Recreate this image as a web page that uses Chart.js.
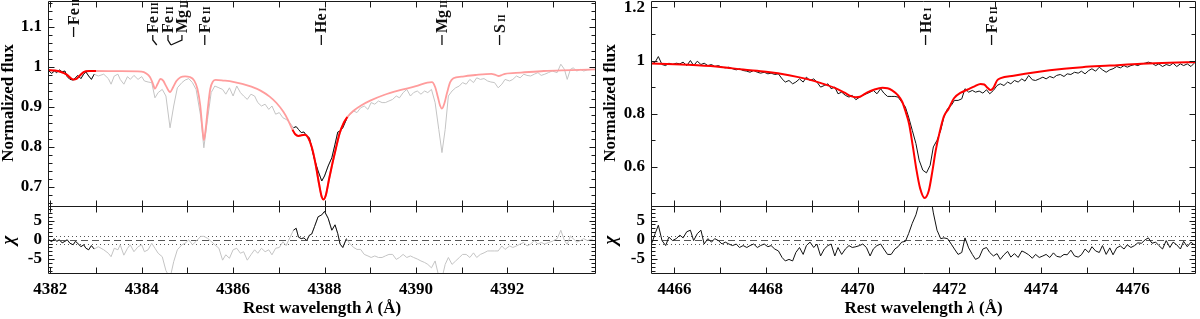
<!DOCTYPE html>
<html>
<head>
<meta charset="utf-8">
<script src="https://cdn.jsdelivr.net/npm/chart.js@4.4.1/dist/chart.umd.min.js"></script>
<style>
html, body { margin: 0; padding: 0; background: #fff; }
#wrap { position: relative; width: 1200px; height: 319px; overflow: hidden; }
canvas { position: absolute; }
</style>
</head>
<body>
<div id="wrap">
  <canvas id="mainL" width="600" height="208" style="left:0px;top:0px"></canvas>
  <canvas id="chiL" width="600" height="119" style="left:0px;top:200px"></canvas>
  <canvas id="mainR" width="600" height="208" style="left:600px;top:0px"></canvas>
  <canvas id="chiR" width="600" height="119" style="left:600px;top:200px"></canvas>
</div>
<script>
// ---- left panel: He I 4388 ----
const lamL = [
  4381.97, 4382.03, 4382.09, 4382.14, 4382.20, 4382.26, 4382.32, 4382.37, 4382.43, 4382.50,
  4382.55, 4382.60, 4382.67, 4382.73, 4382.78, 4382.84, 4382.90, 4382.96, 4383.05, 4383.17,
  4383.27, 4383.33, 4383.40, 4383.48, 4383.53, 4383.61, 4383.69, 4383.75, 4383.83, 4383.92,
  4384.00, 4384.06, 4384.14, 4384.22, 4384.29, 4384.36, 4384.45, 4384.53, 4384.62, 4384.70,
  4384.78, 4384.88, 4384.95, 4385.03, 4385.11, 4385.19, 4385.29, 4385.36, 4385.44, 4385.52,
  4385.60, 4385.69, 4385.77, 4385.84, 4385.92, 4386.00, 4386.08, 4386.16, 4386.23, 4386.31,
  4386.39, 4386.47, 4386.54, 4386.62, 4386.70, 4386.78, 4386.85, 4386.93, 4387.01, 4387.09,
  4387.16, 4387.24, 4387.32, 4387.38, 4387.43, 4387.49, 4387.55, 4387.61, 4387.67, 4387.72,
  4387.78, 4387.86, 4387.94, 4388.00, 4388.08, 4388.16, 4388.23, 4388.29, 4388.34, 4388.40,
  4388.48, 4388.56, 4388.64, 4388.71, 4388.79, 4388.87, 4388.95, 4389.02, 4389.10, 4389.18,
  4389.26, 4389.33, 4389.41, 4389.49, 4389.57, 4389.64, 4389.72, 4389.80, 4389.88, 4389.95,
  4390.03, 4390.11, 4390.19, 4390.26, 4390.34, 4390.42, 4390.50, 4390.57, 4390.64, 4390.71,
  4390.79, 4390.87, 4390.95, 4391.02, 4391.10, 4391.18, 4391.26, 4391.33, 4391.41, 4391.49,
  4391.57, 4391.64, 4391.72, 4391.80, 4391.88, 4391.95, 4392.05, 4392.12, 4392.20, 4392.28,
  4392.36, 4392.43, 4392.51, 4392.59, 4392.67, 4392.74, 4392.82, 4392.90, 4392.98, 4393.09,
  4393.17, 4393.25, 4393.31, 4393.38, 4393.44, 4393.52, 4393.60, 4393.67, 4393.75, 4393.87
];
const fluxL = [
  0.990, 0.984, 0.990, 0.986, 0.9925, 0.988, 0.990, 0.976, 0.969, 0.9675,
  0.973, 0.979, 0.971, 0.982, 0.9875, 0.9775, 0.969, 0.982, 0.9775, 0.982,
  0.971, 0.957, 0.9775, 0.982, 0.969, 0.957, 0.976, 0.969, 0.979, 0.969,
  0.976, 0.965, 0.9625, 0.961, 0.923, 0.936, 0.944, 0.9275, 0.848, 0.9025,
  0.948, 0.961, 0.9675, 0.971, 0.961, 0.944, 0.8775, 0.798, 0.869, 0.936,
  0.9525, 0.948, 0.944, 0.932, 0.948, 0.9275, 0.9525, 0.936, 0.9275, 0.919,
  0.932, 0.9275, 0.911, 0.9025, 0.907, 0.894, 0.9025, 0.882, 0.886, 0.873,
  0.869, 0.861, 0.848, 0.851, 0.844, 0.836, 0.8375, 0.8275, 0.823, 0.798,
  0.769, 0.740, 0.715, 0.7275, 0.7525, 0.773, 0.807, 0.8375, 0.840, 0.848,
  0.869, 0.882, 0.890, 0.886, 0.898, 0.9025, 0.894, 0.911, 0.907, 0.915,
  0.911, 0.911, 0.915, 0.919, 0.9275, 0.923, 0.936, 0.944, 0.9275, 0.936,
  0.940, 0.932, 0.940, 0.936, 0.944, 0.911, 0.844, 0.786, 0.844, 0.9275,
  0.940, 0.948, 0.9525, 0.961, 0.957, 0.969, 0.961, 0.973, 0.969, 0.971,
  0.965, 0.9625, 0.961, 0.948, 0.957, 0.969, 0.965, 0.969, 0.9775, 0.973,
  0.982, 0.979, 0.9775, 0.982, 0.986, 0.979, 0.982, 0.986, 0.990, 0.986,
  1.007, 0.994, 0.969, 0.994, 0.998, 0.990, 0.994, 0.990, 0.9925, 0.994
];
const chiL = [
  0.0, -0.5, 0.3, -0.4, 0.0, -0.8, -0.4, 0.0, -0.9, -1.3,
  -0.4, -0.9, -1.8, -1.3, -2.2, -2.6, -1.5, -2.4, -1.8, -2.6,
  -3.5, -4.4, -2.2, -2.6, -1.3, -4.0, -2.2, -1.3, -3.1, -1.8,
  -1.3, -3.1, -2.6, -0.9, -2.2, -3.5, -4.4, -8.0, -10, -5.7,
  -2.6, -1.3, -0.9, 0.0, -1.3, -0.4, 0.9, 0.9, 0.4, -0.4,
  -1.3, -2.2, -5.3, -3.9, -4.8, -2.6, -2.2, -3.5, -3.1, -5.3,
  -3.9, -2.6, -3.5, -2.2, -3.1, -2.6, -3.9, -2.2, -2.0, -0.5,
  -1.5, 0.5, 2.5, 3.0, 0.7, 0.3, 0.5, -0.2, 1.2, 1.5,
  3.4, 6.0, 6.5, 7.4, 5.6, 2.5, 3.9, 1.6, -1.1, -2.0,
  0.3, -1.1, -2.0, -2.5, -2.5, -3.8, -4.2, -4.6, -4.2, -4.6,
  -4.6, -4.2, -3.8, -3.8, -5.1, -4.6, -3.8, -4.6, -4.2, -4.6,
  -5.0, -5.5, -5.9, -6.4, -7.3, -5.5, -9.5, -10, -6.4, -4.6,
  -6.4, -5.5, -4.6, -3.8, -3.8, -4.6, -3.4, -4.6, -3.8, -3.4,
  -2.9, -2.9, -2.9, -2.9, -1.6, -2.5, -1.6, -2.0, -1.6, -1.1,
  -0.7, -1.6, -1.1, -0.2, -1.1, -0.7, -1.1, -0.7, -0.4, 0.3,
  2.5, -0.2, -1.2, 1.0, 0.3, -0.6, -0.2, 0.3, -0.2, 0.2
];
const modelLamL = [
  4381.95, 4382.10, 4382.22, 4382.36, 4382.45, 4382.51, 4382.58, 4382.66, 4382.74, 4382.85,
  4383.00, 4383.50, 4384.00, 4384.10, 4384.18, 4384.24, 4384.29, 4384.35, 4384.41, 4384.47,
  4384.54, 4384.62, 4384.69, 4384.76, 4384.85, 4384.95, 4385.05, 4385.15, 4385.22, 4385.28,
  4385.33, 4385.36, 4385.40, 4385.45, 4385.50, 4385.56, 4385.62, 4385.80, 4386.00, 4386.20,
  4386.40, 4386.60, 4386.80, 4386.95, 4387.10, 4387.20, 4387.30, 4387.36, 4387.43, 4387.50,
  4387.57, 4387.64, 4387.72, 4387.80, 4387.88, 4387.94, 4387.98, 4388.03, 4388.10, 4388.17,
  4388.25, 4388.33, 4388.42, 4388.50, 4388.65, 4388.80, 4389.00, 4389.30, 4389.65, 4390.00,
  4390.25, 4390.35, 4390.42, 4390.48, 4390.53, 4390.57, 4390.62, 4390.68, 4390.75, 4390.82,
  4391.00, 4391.30, 4391.65, 4391.75, 4391.81, 4391.88, 4391.95, 4392.30, 4392.80, 4393.40,
  4393.94
];
const modelL = [
  0.9925, 0.991, 0.988, 0.981, 0.972, 0.9685, 0.971, 0.980, 0.988, 0.990,
  0.990, 0.9895, 0.9885, 0.984, 0.975, 0.960, 0.946, 0.958, 0.970, 0.966,
  0.951, 0.9375, 0.950, 0.965, 0.9745, 0.9765, 0.975, 0.966, 0.945, 0.905,
  0.845, 0.8175, 0.845, 0.900, 0.945, 0.964, 0.968, 0.966, 0.963, 0.958,
  0.951, 0.941, 0.926, 0.910, 0.888, 0.868, 0.843, 0.832, 0.8275, 0.8295,
  0.8305, 0.824, 0.800, 0.760, 0.708, 0.675, 0.669, 0.680, 0.720, 0.7575,
  0.797, 0.834, 0.860, 0.875, 0.892, 0.904, 0.916, 0.930, 0.942, 0.952,
  0.961, 0.962, 0.950, 0.925, 0.903, 0.896, 0.908, 0.935, 0.962, 0.972,
  0.976, 0.980, 0.983, 0.980, 0.9775, 0.980, 0.983, 0.986, 0.990, 0.992,
  0.994
];
const fitWindowsL = [[4381.9, 4383.0], [4387.3, 4388.5]];
const linesL = [
  ['Fe', 'III', 4382.51], ['Fe', 'III', 4384.33], ['Fe', 'II', 4384.64], ['Mg', 'II', 4384.64],
  ['Fe', 'II', 4385.38], ['He', 'I', 4387.93], ['Mg', 'II', 4390.57], ['S', 'II', 4391.83]
];

// ---- right panel: He I 4471 ----
const lamR = [
  4465.50, 4465.58, 4465.65, 4465.73, 4465.81, 4465.88, 4465.96, 4466.04, 4466.12, 4466.19,
  4466.27, 4466.35, 4466.42, 4466.50, 4466.58, 4466.65, 4466.73, 4466.81, 4466.88, 4466.96,
  4467.04, 4467.11, 4467.19, 4467.27, 4467.35, 4467.42, 4467.50, 4467.58, 4467.65, 4467.73,
  4467.81, 4467.88, 4467.96, 4468.04, 4468.11, 4468.19, 4468.27, 4468.35, 4468.42, 4468.50,
  4468.58, 4468.65, 4468.73, 4468.81, 4468.88, 4468.96, 4469.04, 4469.11, 4469.19, 4469.27,
  4469.35, 4469.42, 4469.50, 4469.57, 4469.65, 4469.73, 4469.81, 4469.88, 4469.96, 4470.04,
  4470.11, 4470.19, 4470.27, 4470.34, 4470.42, 4470.50, 4470.57, 4470.65, 4470.73, 4470.81,
  4470.88, 4470.96, 4471.04, 4471.11, 4471.19, 4471.27, 4471.34, 4471.42, 4471.50, 4471.58,
  4471.65, 4471.73, 4471.81, 4471.88, 4471.96, 4472.04, 4472.11, 4472.19, 4472.27, 4472.34,
  4472.42, 4472.50, 4472.57, 4472.65, 4472.73, 4472.81, 4472.88, 4472.96, 4473.04, 4473.11,
  4473.19, 4473.27, 4473.34, 4473.42, 4473.50, 4473.58, 4473.65, 4473.73, 4473.81, 4473.88,
  4473.96, 4474.04, 4474.11, 4474.19, 4474.27, 4474.34, 4474.42, 4474.50, 4474.57, 4474.65,
  4474.73, 4474.81, 4474.88, 4474.96, 4475.04, 4475.11, 4475.19, 4475.27, 4475.34, 4475.42,
  4475.50, 4475.57, 4475.65, 4475.73, 4475.81, 4475.88, 4475.96, 4476.04, 4476.11, 4476.19,
  4476.27, 4476.34, 4476.42, 4476.50, 4476.57, 4476.65, 4476.73, 4476.81, 4476.88, 4476.96,
  4477.04, 4477.11, 4477.19, 4477.27, 4477.34
];
const fluxR = [
  0.9875, 0.994, 1.015, 0.985, 0.981, 0.990, 0.985, 0.990, 0.9875, 0.994,
  0.981, 1.000, 0.981, 0.9975, 0.985, 0.990, 0.981, 0.985, 0.9775, 0.981,
  0.975, 0.9725, 0.975, 0.969, 0.965, 0.969, 0.9625, 0.960, 0.956, 0.9625,
  0.956, 0.9525, 0.956, 0.950, 0.9525, 0.9475, 0.950, 0.931, 0.919, 0.925,
  0.9125, 0.919, 0.931, 0.919, 0.9375, 0.925, 0.931, 0.919, 0.900, 0.906,
  0.9125, 0.894, 0.900, 0.875, 0.881, 0.869, 0.8625, 0.869, 0.8525, 0.8625,
  0.869, 0.875, 0.881, 0.8875, 0.875, 0.894, 0.8775, 0.865, 0.865, 0.865,
  0.8625, 0.844, 0.825, 0.7875, 0.7375, 0.6875, 0.625, 0.5875, 0.5775, 0.606,
  0.675, 0.700, 0.7375, 0.7875, 0.819, 0.831, 0.850, 0.850, 0.856, 0.894,
  0.881, 0.8875, 0.881, 0.885, 0.8775, 0.890, 0.875, 0.8875, 0.906, 0.9125,
  0.906, 0.919, 0.9125, 0.925, 0.919, 0.931, 0.9225, 0.944, 0.9275, 0.925,
  0.931, 0.9375, 0.931, 0.940, 0.935, 0.944, 0.9475, 0.940, 0.950, 0.9475,
  0.956, 0.9525, 0.960, 0.950, 0.9625, 0.969, 0.960, 0.975, 0.965, 0.956,
  0.965, 0.969, 0.9775, 0.9725, 0.981, 0.975, 0.981, 0.985, 0.981, 0.9875,
  0.990, 0.994, 0.990, 0.981, 0.9875, 0.9775, 0.985, 0.981, 0.990, 0.9775,
  0.9875, 0.981, 0.9875, 0.9775, 0.990
];
const chiR = [
  -1.1, 1.6, 3.8, -0.2, -1.5, 0.7, -0.2, 0.3, 1.2, 0.5,
  2.1, 2.5, -0.2, 1.6, 2.5, -1.1, 0.3, -0.6, 0.3, -0.2,
  -1.1, -0.6, -1.1, -1.5, -1.1, -2.0, -1.5, -2.0, -1.5, -1.1,
  -2.0, -1.5, -1.1, -1.8, -1.5, -2.4, -2.9, -4.6, -5.5, -5.1,
  -5.5, -3.3, -2.0, -3.8, -1.5, -0.6, -2.0, -1.1, -4.2, -2.4,
  -1.5, -1.1, -4.2, -2.0, -3.8, -2.4, -1.5, -2.0, -1.8, -1.5,
  -1.1, -2.0, -4.2, -2.4, -1.5, -1.1, -2.4, -3.8, -3.8, -2.4,
  -1.8, -0.6, -0.4, 1.6, 4.3, 6.5, 9.6, 14, 16, 12,
  7.0, 2.5, 0.3, 0.5, 0.3, -1.1, -2.4, -3.8, -3.3, 0.5,
  -2.1, -3.8, -5.1, -4.6, -2.4, -2.0, -3.3, -4.2, -3.6, -5.1,
  -3.9, -3.0, -4.5, -3.6, -4.6, -2.9, -3.3, -3.9, -4.8, -3.8,
  -4.6, -4.2, -3.8, -4.6, -3.4, -4.3, -4.5, -3.8, -3.9, -2.7,
  -4.2, -4.5, -3.9, -2.4, -3.3, -1.8, -2.9, -3.3, -1.5, -3.8,
  -2.1, -3.9, -2.1, -1.6, -2.4, -1.3, -2.0, -1.5, -0.8, -0.9,
  0.0, 0.5, -0.9, -0.6, -1.5, -2.4, -0.2, -2.0, -0.6, -1.3,
  -2.4, -0.4, -1.8, -0.6, -1.3
];
const modelLamR = [
  4465.49, 4466.00, 4466.50, 4467.00, 4467.50, 4468.00, 4468.50, 4468.90, 4469.20, 4469.50,
  4469.70, 4469.85, 4469.96, 4470.05, 4470.20, 4470.35, 4470.54, 4470.65, 4470.75, 4470.88,
  4470.97, 4471.05, 4471.12, 4471.20, 4471.28, 4471.36, 4471.46, 4471.55, 4471.63, 4471.70,
  4471.78, 4471.88, 4471.98, 4472.10, 4472.25, 4472.40, 4472.55, 4472.68, 4472.76, 4472.83,
  4472.90, 4472.96, 4473.04, 4473.12, 4473.40, 4473.88, 4474.50, 4474.90, 4475.50, 4476.19,
  4476.80, 4477.38
];
const modelR = [
  0.989, 0.986, 0.982, 0.976, 0.966, 0.958, 0.945, 0.930, 0.915, 0.897,
  0.880, 0.866, 0.862, 0.864, 0.879, 0.890, 0.8975, 0.896, 0.888, 0.869,
  0.845, 0.805, 0.7625, 0.680, 0.590, 0.520, 0.483, 0.510, 0.585, 0.660,
  0.725, 0.790, 0.818, 0.858, 0.879, 0.891, 0.903, 0.912, 0.910, 0.898,
  0.889, 0.897, 0.925, 0.934, 0.943, 0.956, 0.969, 0.975, 0.981, 0.988,
  0.992, 0.994
];
const linesR = [['He', 'I', 4471.48], ['Fe', 'II', 4472.92]];

// ---- axes ----
const xMarksL = [4382, 4383, 4384, 4385, 4386, 4387, 4388, 4389, 4390, 4391, 4392, 4393];
const xLabelsL = [4382, 4384, 4386, 4388, 4390, 4392];
const xMarksR = [4466, 4467, 4468, 4469, 4470, 4471, 4472, 4473, 4474, 4475, 4476, 4477];
const xLabelsR = [4466, 4468, 4470, 4472, 4474, 4476];
const fluxLabelsL = [0.7, 0.8, 0.9, 1, 1.1];
const fluxLabelsR = [0.6, 0.8, 1, 1.2];
const chiLabels = [-5, 0, 5];

const serif = '"Liberation Serif", "Times New Roman", Times, serif';
const tickFont = { family: serif, size: 17, weight: 'bold' };
Chart.defaults.font.family = serif;

const near = (list, v) => list.some(u => Math.abs(u - v) < 1e-6);

function stepTicks(lo, hi, step) {
    const out = [];
    for (let k = Math.ceil(lo / step - 1e-6); k * step <= hi + 1e-9; k++) out.push(+(k * step).toFixed(6));
    return out;
}

function series(xs, ys, win) {
    const out = [];
    xs.forEach((x, i) => {
        if (!win || (x >= win[0] && x <= win[1])) out.push({ x: x, y: ys[i] });
    });
    return out;
}

function ds(data, color, width, smooth) {
    return {
        data: data,
        borderColor: color,
        borderWidth: width,
        pointRadius: 0,
        showLine: true,
        fill: false,
        tension: 0,
        cubicInterpolationMode: smooth ? 'monotone' : 'default',
        clip: 0
    };
}

function rotText(ctx, text, x, y, font) {
    ctx.save();
    ctx.translate(x, y);
    ctx.rotate(-Math.PI / 2);
    ctx.font = font;
    ctx.fillStyle = '#000';
    ctx.textAlign = 'center';
    ctx.textBaseline = 'middle';
    ctx.fillText(text, 0, 0);
    ctx.restore();
}

function drawLineIds(chart, list, nudge) {
    const ctx = chart.ctx, xs = chart.scales.x;
    ctx.save();
    ctx.fillStyle = '#111';
    ctx.strokeStyle = '#111';
    ctx.lineWidth = 1.3;
    list.forEach(([el, ion, wl], i) => {
        const [dx, dy] = nudge[i] || [0, 0];
        const xl = xs.getPixelForValue(wl), xt = xl + dx, y0 = 45 + dy;
        ctx.beginPath();
        ctx.moveTo(xl, y0);
        ctx.lineTo(xt, y0 - 5);
        ctx.lineTo(xt, y0 - 10);
        ctx.stroke();
        ctx.save();
        ctx.translate(xt + 5, y0 - 12);
        ctx.rotate(-Math.PI / 2);
        ctx.textAlign = 'left';
        ctx.textBaseline = 'alphabetic';
        ctx.font = 'bold 16px ' + serif;
        ctx.fillText(el, 0, 0);
        const w = ctx.measureText(el).width;
        ctx.font = 'bold 10px ' + serif;
        ctx.fillText(ion, w + 2, 0);
        ctx.restore();
    });
    ctx.restore();
}

function framePlugin(o) {
    return {
        id: 'frame',
        beforeDatasetsDraw(chart) {
            if (!o.refLines) return;
            const { ctx, chartArea: a } = chart;
            const ys = chart.scales.y;
            ctx.save();
            ctx.strokeStyle = '#555';
            ctx.lineWidth = 1;
            [[0, [7, 4]], [1, [1, 3]], [-1, [1, 3]]].forEach(([v, dash]) => {
                const p = Math.round(ys.getPixelForValue(v)) + 0.5;
                ctx.setLineDash(dash);
                ctx.beginPath();
                ctx.moveTo(a.left, p);
                ctx.lineTo(a.right, p);
                ctx.stroke();
            });
            ctx.restore();
        },
        afterDatasetsDraw(chart) {
            const { ctx, chartArea: a } = chart;
            const xs = chart.scales.x, ys = chart.scales.y;
            const L = Math.round(a.left) + 0.5, R = Math.round(a.right) - 0.5;
            const T = Math.round(a.top) + 0.5, B = Math.round(a.bottom) - 0.5;
            ctx.save();
            ctx.strokeStyle = '#1a1a1a';
            ctx.lineWidth = 1;
            ctx.beginPath();
            ctx.rect(L, T, R - L, B - T);
            o.xMarks.forEach(v => {
                const p = Math.round(xs.getPixelForValue(v)) + 0.5;
                ctx.moveTo(p, T); ctx.lineTo(p, T + 6);
                ctx.moveTo(p, B); ctx.lineTo(p, B - 6);
            });
            ys.ticks.forEach(t => {
                const p = Math.round(ys.getPixelForValue(t.value)) + 0.5;
                const len = near(o.yLabels, t.value) ? 6 : 4;
                ctx.moveTo(L, p); ctx.lineTo(L + len, p);
                ctx.moveTo(R, p); ctx.lineTo(R - len, p);
            });
            ctx.stroke();
            ctx.restore();
            if (o.after) o.after(chart);
        }
    };
}

function makeChart(id, o) {
    const scales = {
        x: {
            type: 'linear', min: o.xMin, max: o.xMax, display: !!o.xLabels,
            grid: { display: false, drawTicks: false }, border: { display: false },
            ticks: {
                font: tickFont, color: '#000', padding: 5, autoSkip: false, maxRotation: 0,
                callback: v => (o.xLabels && near(o.xLabels, v)) ? String(v) : ''
            },
            afterBuildTicks: s => { s.ticks = o.xMarks.map(v => ({ value: v })); },
            afterFit: s => { s.height = o.xLabels ? 45 : 0; s.paddingLeft = 0; s.paddingRight = 0; }
        },
        y: {
            type: 'linear', min: o.yMin, max: o.yMax,
            grid: { display: false, drawTicks: false }, border: { display: false },
            ticks: {
                font: tickFont, color: '#000', padding: 6, autoSkip: false,
                callback: v => near(o.yLabels, v) ? String(+v.toFixed(2)) : ''
            },
            afterBuildTicks: s => { s.ticks = o.yTicks.map(v => ({ value: v })); },
            afterFit: s => { s.width = o.axisW; s.paddingTop = 0; s.paddingBottom = 0; }
        }
    };
    return new Chart(document.getElementById(id), {
        type: 'scatter',
        data: { datasets: o.datasets },
        options: {
            responsive: false,
            animation: false,
            devicePixelRatio: 1,
            events: [],
            layout: { padding: o.padding },
            plugins: { legend: { display: false }, tooltip: { enabled: false } },
            scales: scales
        },
        plugins: [framePlugin(o)]
    });
}

function xTitle(chart) {
    const ctx = chart.ctx, a = chart.chartArea;
    const parts = [['Rest wavelength ', 'bold 17px '], ['\u03bb', 'bold italic 17px '], [' (\u00c5)', 'bold 17px ']];
    ctx.save();
    ctx.fillStyle = '#000';
    ctx.textBaseline = 'middle';
    ctx.textAlign = 'left';
    let total = 0;
    parts.forEach(([t, f]) => { ctx.font = f + serif; total += ctx.measureText(t).width; });
    let x = (a.left + a.right) / 2 - total / 2;
    parts.forEach(([t, f]) => { ctx.font = f + serif; ctx.fillText(t, x, 109); x += ctx.measureText(t).width; });
    ctx.restore();
}

const chiRange = [-8.9, 8.8];
const labelNudgeL = [[0, -8], [-4, 0], [-3, 0], [11, 0], [0, 0], [0, 0], [0, 0], [0, 0]];

// left panel
makeChart('mainL', {
    xMin: 4381.95, xMax: 4393.94, yMin: 0.65, yMax: 1.165, axisW: 48,
    xMarks: xMarksL, yLabels: fluxLabelsL, yTicks: stepTicks(0.65, 1.165, 0.02),
    padding: { top: 1, right: 4, bottom: 1, left: 0 },
    datasets: [
        ...fitWindowsL.map(w => ds(series(modelLamL, modelL, w), '#ff0000', 2, true)),
        ...fitWindowsL.map(w => ds(series(lamL, fluxL, w), '#111111', 1, false)),
        ds(series(modelLamL, modelL), '#ff9c9c', 1.8, true),
        ds(series(lamL, fluxL), '#c4c4c4', 1, false)
    ],
    after: chart => {
        rotText(chart.ctx, 'Normalized flux', 9, 103, 'bold 17px ' + serif);
        drawLineIds(chart, linesL, labelNudgeL);
    }
});

makeChart('chiL', {
    xMin: 4381.95, xMax: 4393.94, yMin: chiRange[0], yMax: chiRange[1], axisW: 48,
    xMarks: xMarksL, xLabels: xLabelsL, yLabels: chiLabels, yTicks: stepTicks(chiRange[0], chiRange[1], 1),
    padding: { top: 6, right: 4, bottom: 0, left: 0 }, refLines: true,
    datasets: [
        ...fitWindowsL.map(w => ds(series(lamL, chiL, w), '#111111', 1, false)),
        ds(series(lamL, chiL), '#c4c4c4', 1, false)
    ],
    after: chart => {
        rotText(chart.ctx, '\u03c7', 9, 40, 'bold italic 19px ' + serif);
        xTitle(chart);
    }
});

// right panel
makeChart('mainR', {
    xMin: 4465.49, xMax: 4477.38, yMin: 0.449, yMax: 1.224, axisW: 51,
    xMarks: xMarksR, yLabels: fluxLabelsR, yTicks: stepTicks(0.449, 1.224, 0.1),
    padding: { top: 1, right: 4, bottom: 1, left: 0 },
    datasets: [
        ds(series(modelLamR, modelR), '#ff0000', 2, true),
        ds(series(lamR, fluxR), '#111111', 1, false)
    ],
    after: chart => {
        rotText(chart.ctx, 'Normalized flux', 11, 103, 'bold 17px ' + serif);
        drawLineIds(chart, linesR, []);
    }
});

makeChart('chiR', {
    xMin: 4465.49, xMax: 4477.38, yMin: chiRange[0], yMax: chiRange[1], axisW: 51,
    xMarks: xMarksR, xLabels: xLabelsR, yLabels: chiLabels, yTicks: stepTicks(chiRange[0], chiRange[1], 1),
    padding: { top: 6, right: 4, bottom: 0, left: 0 }, refLines: true,
    datasets: [
        ds(series(lamR, chiR), '#111111', 1, false)
    ],
    after: chart => {
        rotText(chart.ctx, '\u03c7', 11, 40, 'bold italic 19px ' + serif);
        xTitle(chart);
    }
});
</script>
</body>
</html>
